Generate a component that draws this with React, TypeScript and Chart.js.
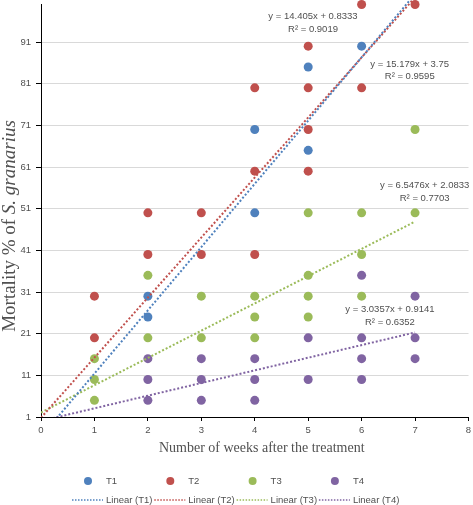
import React, { useEffect, useRef } from 'react';
import { Chart, registerables } from 'chart.js';

Chart.register(...registerables);

// ---------- data ----------
const xTicks = [0, 1, 2, 3, 4, 5, 6, 7, 8];
const yTicks = [1, 11, 21, 31, 41, 51, 61, 71, 81, 91];
const seriesNames = ['T1', 'T2', 'T3', 'T4'];
const seriesColors = ['#4F81BD', '#C0504D', '#9BBB59', '#8064A2'];

const t1Weeks = [2, 2, 4, 4, 5, 5, 6];
const t1Values = [30, 25, 70, 50, 85, 65, 90];

const t2Weeks = [1, 1, 2, 2, 3, 3, 4, 4, 4, 5, 5, 5, 5, 6, 6, 7];
const t2Values = [30, 20, 50, 40, 50, 40, 80, 60, 40, 90, 80, 70, 60, 100, 80, 100];

const t3Weeks = [1, 1, 1, 2, 2, 3, 3, 4, 4, 4, 5, 5, 5, 5, 6, 6, 6, 7, 7];
const t3Values = [15, 10, 5, 35, 20, 30, 20, 30, 25, 20, 50, 35, 30, 25, 50, 40, 30, 70, 50];

const t4Weeks = [2, 2, 2, 3, 3, 3, 4, 4, 4, 5, 5, 6, 6, 6, 6, 7, 7, 7];
const t4Values = [15, 10, 5, 15, 10, 5, 15, 10, 5, 20, 10, 35, 20, 15, 10, 30, 20, 15];

// trend lines: values at the start and end week
const trendWeeks = [0, 7];
const trendT1 = [-3.75, 102.5];
const trendT2 = [0.83, 101.7];
const trendT3 = [2.08, 47.9];
const trendT4 = [0.05, 21.3];

const equationTexts = ['y = 15.179x + 3.75', 'y = 14.405x + 0.8333', 'y = 6.5476x + 2.0833', 'y = 3.0357x + 0.9141'];
const r2Texts = ['R² = 0.9595', 'R² = 0.9019', 'R² = 0.7703', 'R² = 0.6352'];

const xTitle = 'Number of weeks after the treatment';
const yTitleParts = ['Mortality % of ', 'S. granarius'];

// ---------- helpers ----------
const pts = (xs: number[], ys: number[]) => xs.map((x, i) => ({ x, y: ys[i] }));

const SMALL_FONT = '9.5px "Liberation Sans", Arial, sans-serif';
const TEXT_COLOR = '#505050';

const overlayPlugin = {
  id: 'overlay',
  afterDraw(chart: any) {
    const { ctx, chartArea, scales } = chart;
    const xs = scales.x;
    const ys = scales.y;
    ctx.save();

    // equation labels (anchored in data units)
    const anchors = [
      [6.9, 85.65],
      [5.09, 97.13],
      [7.18, 56.48],
      [6.53, 26.8],
    ];
    ctx.font = SMALL_FONT;
    ctx.fillStyle = TEXT_COLOR;
    ctx.textAlign = 'center';
    ctx.textBaseline = 'middle';
    anchors.forEach((a, i) => {
      const px = xs.getPixelForValue(a[0]);
      const py = ys.getPixelForValue(a[1]);
      ctx.fillText(equationTexts[i], px, py);
      ctx.fillText(r2Texts[i], px, py + 12.5);
    });

    // x title
    ctx.font = '14px "Liberation Serif", "Times New Roman", serif';
    ctx.fillStyle = TEXT_COLOR;
    ctx.textAlign = 'center';
    ctx.fillText(xTitle, (chartArea.left + chartArea.right) / 2 + 7, chartArea.bottom + 31);

    // y title, mixed regular / italic
    const regFont = '19px "Liberation Serif", "Times New Roman", serif';
    const itFont = 'italic 19px "Liberation Serif", "Times New Roman", serif';
    ctx.font = regFont;
    const w1 = ctx.measureText(yTitleParts[0]).width;
    ctx.font = itFont;
    const w2 = ctx.measureText(yTitleParts[1]).width;
    const total = w1 + w2;
    ctx.save();
    ctx.translate(15, 226);
    ctx.rotate(-Math.PI / 2);
    ctx.textAlign = 'left';
    ctx.textBaseline = 'alphabetic';
    ctx.font = regFont;
    ctx.fillText(yTitleParts[0], -total / 2, 0);
    ctx.font = itFont;
    ctx.fillText(yTitleParts[1], -total / 2 + w1, 0);
    ctx.restore();

    // legend
    const colW = 82.3;
    const startX = 72;
    const row1 = chartArea.bottom + 64;
    const row2 = chartArea.bottom + 83;
    ctx.font = SMALL_FONT;
    ctx.textAlign = 'left';
    ctx.textBaseline = 'middle';
    seriesNames.forEach((name, i) => {
      const cx = startX + i * colW;
      ctx.fillStyle = seriesColors[i];
      ctx.beginPath();
      ctx.arc(cx + 16, row1, 4, 0, Math.PI * 2);
      ctx.fill();
      ctx.fillStyle = TEXT_COLOR;
      ctx.fillText(name, cx + 34, row1);

      ctx.strokeStyle = seriesColors[i];
      ctx.lineWidth = 1.5;
      ctx.setLineDash([1.5, 1.5]);
      ctx.beginPath();
      ctx.moveTo(cx, row2);
      ctx.lineTo(cx + 31, row2);
      ctx.stroke();
      ctx.setLineDash([]);
      ctx.fillStyle = TEXT_COLOR;
      ctx.fillText('Linear (' + name + ')', cx + 34, row2);
    });

    ctx.restore();
  },
};

export default function App() {
  const ref = useRef<HTMLCanvasElement | null>(null);

  useEffect(() => {
    if (!ref.current) return;
    const scatterData = [
      pts(t1Weeks, t1Values),
      pts(t2Weeks, t2Values),
      pts(t3Weeks, t3Values),
      pts(t4Weeks, t4Values),
    ];
    const trends = [trendT1, trendT2, trendT3, trendT4];

    const datasets: any[] = [];
    scatterData.forEach((d, i) => {
      datasets.push({
        type: 'scatter',
        label: seriesNames[i],
        data: d,
        pointRadius: 4.5,
        pointHoverRadius: 4.5,
        pointBackgroundColor: seriesColors[i],
        pointBorderWidth: 0,
        borderWidth: 0,
        clip: false,
        order: 10 - i,
      });
    });
    trends.forEach((t, i) => {
      datasets.push({
        type: 'line',
        label: 'Linear (' + seriesNames[i] + ')',
        data: pts(trendWeeks, t),
        borderColor: seriesColors[i],
        borderWidth: 2,
        borderDash: [2, 2],
        pointRadius: 0,
        fill: false,
        clip: { left: 0, top: 5, right: 5, bottom: 0 },
        order: 1,
      });
    });

    const chart = new Chart(ref.current, {
      type: 'scatter',
      data: { datasets },
      options: {
        responsive: false,
        animation: false,
        devicePixelRatio: 1,
        layout: { padding: { top: 3, right: 3, bottom: 50, left: 0 } },
        plugins: {
          legend: { display: false },
          tooltip: { enabled: false },
        },
        scales: {
          x: {
            type: 'linear',
            min: 0,
            max: 8,
            afterBuildTicks: (s: any) => {
              s.ticks = xTicks.map((v) => ({ value: v }));
            },
            afterFit: (s: any) => {
              s.height = 38;
              s.paddingLeft = 0;
              s.paddingRight = 0;
            },
            grid: {
              drawOnChartArea: false,
              drawTicks: true,
              tickLength: 4,
              tickColor: '#000000',
            },
            border: { display: true, color: '#000000', width: 1 },
            ticks: {
              padding: 4,
              color: TEXT_COLOR,
              font: { family: '"Liberation Sans", Arial, sans-serif', size: 9.5 },
              maxRotation: 0,
            },
          },
          y: {
            type: 'linear',
            min: 1,
            max: 100,
            afterBuildTicks: (s: any) => {
              s.ticks = yTicks.map((v) => ({ value: v }));
            },
            afterFit: (s: any) => {
              s.width = 41;
              s.paddingTop = 0;
              s.paddingBottom = 0;
            },
            grid: {
              color: '#D9D9D9',
              lineWidth: 1,
              drawTicks: true,
              tickLength: 5,
              tickColor: '#000000',
            },
            border: { display: true, color: '#000000', width: 1 },
            ticks: {
              padding: 5,
              color: TEXT_COLOR,
              font: { family: '"Liberation Sans", Arial, sans-serif', size: 9.5 },
            },
          },
        },
      },
      plugins: [overlayPlugin],
    });
    return () => chart.destroy();
  }, []);

  return (
    <div style={{ position: 'absolute', left: 0, top: 0, width: 473, height: 505, background: '#fff' }}>
      <canvas ref={ref} width={473} height={505} style={{ display: 'block', width: 473, height: 505 }} />
    </div>
  );
}
